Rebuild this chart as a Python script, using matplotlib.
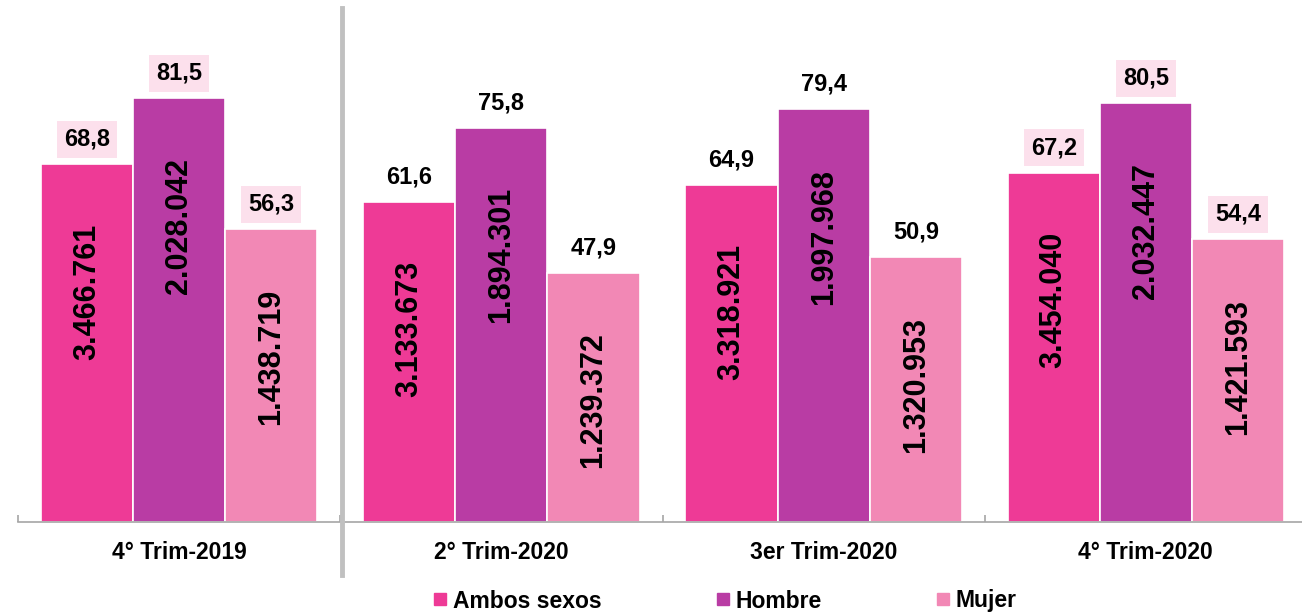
import matplotlib.pyplot as plt
from matplotlib.lines import Line2D
import numpy as np

plt.rcParams['font.family'] = ['Liberation Sans', 'DejaVu Sans']
plt.rcParams['font.weight'] = 'bold'

periodos = ["4° Trim-2019", "2° Trim-2020", "3er Trim-2020", "4° Trim-2020"]
series = ["Ambos sexos", "Hombre", "Mujer"]

# tasas (%) -> altura de las barras
tasa_ambos = [68.8, 61.6, 64.9, 67.2]
tasa_hombre = [81.5, 75.8, 79.4, 80.5]
tasa_mujer = [56.3, 47.9, 50.9, 54.4]

# personas (etiqueta dentro de la barra)
pers_ambos = ["3.466.761", "3.133.673", "3.318.921", "3.454.040"]
pers_hombre = ["2.028.042", "1.894.301", "1.997.968", "2.032.447"]
pers_mujer = ["1.438.719", "1.239.372", "1.320.953", "1.421.593"]

# periodos con recuadro rosa en la etiqueta de tasa
con_recuadro = [True, False, False, True]

colores = ["#EE3A96", "#B93CA4", "#F288B5"]
caja = "#FCE0EC"

tasas = [tasa_ambos, tasa_hombre, tasa_mujer]
personas = [pers_ambos, pers_hombre, pers_mujer]
bajada = 24.5   # centro del texto interior, bajo el tope

W, H = 1302, 613
fig = plt.figure(figsize=(W / 100, H / 100), dpi=100)
ax = fig.add_axes([18 / W, (H - 522) / H, (1307 - 18) / W, (522 - 8) / H])

x = np.arange(len(periodos))
ancho = 0.286
for i, (nombre, vals) in enumerate(zip(series, tasas)):
    pos = x + (i - 1) * ancho
    ax.bar(pos, vals, width=ancho, color=colores[i], edgecolor="white",
           linewidth=1.2, label=nombre, zorder=2)
    for j, v in enumerate(vals):
        txt = f"{v:.1f}".replace(".", ",")
        bbox = None
        if con_recuadro[j]:
            bbox = dict(boxstyle="square,pad=0.3", fc=caja, ec="none")
        ax.annotate(txt, (pos[j], v), xytext=(0, 18), textcoords="offset points",
                    ha="center", va="center", fontsize=17, fontweight="bold",
                    bbox=bbox, zorder=3)
        ax.text(pos[j], v - bajada, personas[i][j], rotation=90,
                ha="center", va="center", fontsize=22, fontweight="bold",
                color="black", zorder=3)

ax.set_xlim(-0.5, 3.5)
ax.set_ylim(0, (522 - 8) / 5.2)
for s in ["top", "right", "left"]:
    ax.spines[s].set_visible(False)
ax.spines["bottom"].set_color("#A6A6A6")
ax.spines["bottom"].set_linewidth(1.2)
ax.set_yticks([])
ax.set_xticks(x)
ax.set_xticklabels(periodos, fontsize=16.5, fontweight="bold")
ax.tick_params(axis="x", which="major", length=0, pad=14)
ax.set_xticks(np.arange(-0.5, 4, 1), minor=True)
ax.tick_params(axis="x", which="minor", direction="in", length=5,
               color="#A6A6A6", width=1.2)

# separador vertical gris
fig.add_artist(Line2D([342 / W, 342 / W], [(H - 575) / H, (H - 8) / H],
                      color="#C0C0C0", linewidth=3.5))

handles = [Line2D([], [], marker="s", linestyle="none", markersize=8,
                  color=c) for c in colores]
fig.legend(handles, series, loc="center", bbox_to_anchor=(0.556, 12 / H),
           ncol=3, frameon=False, prop=dict(size=16.5, weight="bold"),
           handletextpad=0.15, columnspacing=4.9, handlelength=0.8,
           borderaxespad=0)

fig.savefig("out.png", dpi=100)
